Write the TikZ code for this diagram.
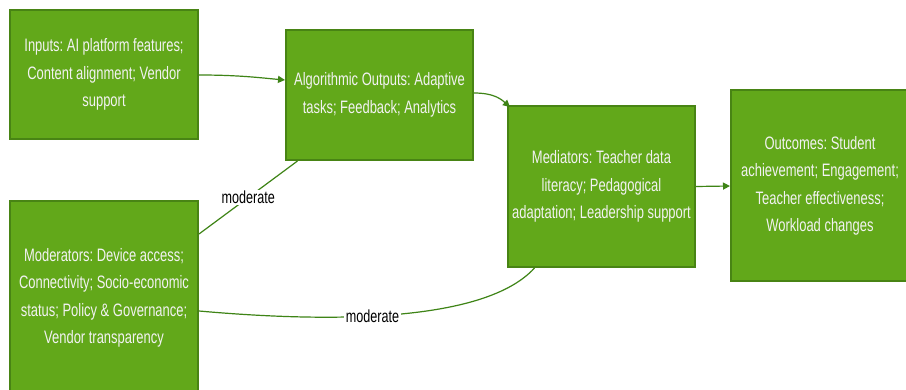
\documentclass[tikz,border=0pt]{standalone}
\usepackage{fontspec}
\setmainfont{Liberation Sans}[FakeStretch=0.72]
\usetikzlibrary{arrows.meta}
\definecolor{boxfill}{RGB}{98,168,26}
\definecolor{boxedge}{RGB}{72,132,20}
\definecolor{linkgreen}{RGB}{62,132,22}
\frenchspacing
\begin{document}
\begin{tikzpicture}[x=1pt,y=-1pt,
  stage/.style={draw=boxedge, line width=2pt, fill=boxfill, text=white!95!black,
    align=center, font=\fontsize{18}{27.5}\selectfont, inner sep=4pt},
  link/.style={draw=linkgreen, line width=1.2pt},
  arrowlink/.style={link, -{Triangle[length=7pt,width=7pt]}},
  tag/.style={fill=white, text=black, inner sep=1.5pt, font=\fontsize{17.5}{20}\selectfont}]
\useasboundingbox[fill=white] (0,0) rectangle (906,390);

\node[stage, minimum width=188pt, minimum height=129pt] (inp) at (104,74.5)
  {Inputs: AI platform features;\\Content alignment; Vendor\\support};
\node[stage, minimum width=187pt, minimum height=130pt] (alg) at (379.5,95)
  {Algorithmic Outputs: Adaptive\\tasks; Feedback; Analytics};
\node[stage, minimum width=187pt, minimum height=161pt] (med) at (601.5,186.5)
  {Mediators: Teacher data\\literacy; Pedagogical\\adaptation; Leadership support};
\node[stage, minimum width=178pt, minimum height=191pt] (out) at (820,186)
  {Outcomes: Student\\achievement; Engagement;\\Teacher effectiveness;\\Workload changes};
\node[stage, minimum width=188pt, minimum height=194pt] (mod) at (104,298)
  {Moderators: Device access;\\Connectivity; Socio-economic\\status; Policy \& Governance;\\Vendor transparency};

% main causal chain
\draw[arrowlink] ([yshift=-0.5pt]inp.east) .. controls (240,75) and (262,78) .. ([yshift=15pt]alg.west);
\draw[arrowlink] ([yshift=2pt]alg.east) .. controls (495,93) and (502,100) .. ([xshift=3pt,yshift=-2pt]med.north west);
\draw[arrowlink] (med.east) -- (out.west);

% moderating paths
\draw[link] ([yshift=64pt]mod.east) -- node[tag, pos=0.5] {moderate} ([xshift=-82pt]alg.south);
\draw[link] ([yshift=-13pt]mod.east) .. controls (300,320) and (480,328) .. ([xshift=-67pt]med.south)
  node[tag, pos=0.47] {moderate};
\end{tikzpicture}
\end{document}
